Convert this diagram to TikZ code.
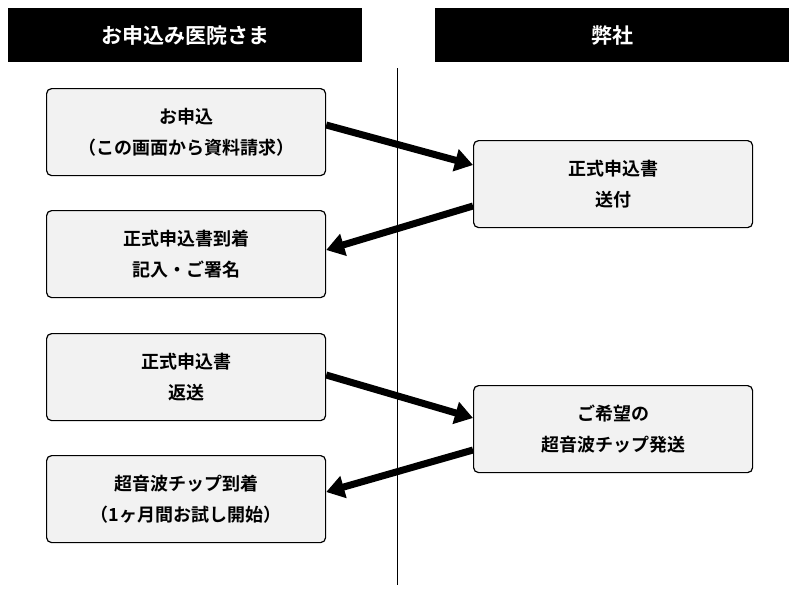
\documentclass[tikz,border=0pt]{standalone}
\usepackage{fontspec}
\newfontfamily\jp{Noto Sans CJK JP}[BoldFont={Noto Sans CJK JP Bold}]
\usetikzlibrary{arrows.meta}
\begin{document}
\begin{tikzpicture}[x=1pt,y=-1pt,
  hdr/.style={fill=black,text=white,font=\jp\bfseries\fontsize{21}{24}\selectfont,anchor=north west,inner sep=0pt},
  bx/.style={draw=black,line width=1.2pt,rounded corners=5pt,fill=black!5,minimum width=279pt,minimum height=87pt,anchor=north west,align=center,font=\jp\bfseries\fontsize{18}{31}\selectfont},
  arr/.style={line width=7pt,-{Triangle[length=18pt,width=22pt]}}]
\useasboundingbox (0,0) rectangle (800,600);
\node[hdr,minimum width=354pt,minimum height=54pt] (h1) at (8,8) {お申込み医院さま};
\node[hdr,minimum width=354pt,minimum height=54pt] (h2) at (435,8) {弊社};
\coordinate (vt) at (397,68); \coordinate (vb) at (397,585);
\draw[line width=0.8pt] (vt) -- (vb);
\node[bx] (a) at (46,88) {お申込\\（この画面から資料請求）};
\node[bx] (b) at (46,210) {正式申込書到着\\記入・ご署名};
\node[bx] (c) at (46,333) {正式申込書\\返送};
\node[bx] (d) at (46,455) {超音波チップ到着\\（1ヶ月間お試し開始）};
\node[bx] (r1) at (473,140) {正式申込書\\送付};
\node[bx] (r2) at (473,385) {ご希望の\\超音波チップ発送};
\draw[arr] (a.east |- 0,125) -- (r1.west |- 0,165);
\draw[arr] (r1.west |- 0,206) -- (b.east |- 0,250);
\draw[arr] (c.east |- 0,375) -- (r2.west |- 0,418);
\draw[arr] (r2.west |- 0,450) -- (d.east |- 0,492);
\end{tikzpicture}
\end{document}
